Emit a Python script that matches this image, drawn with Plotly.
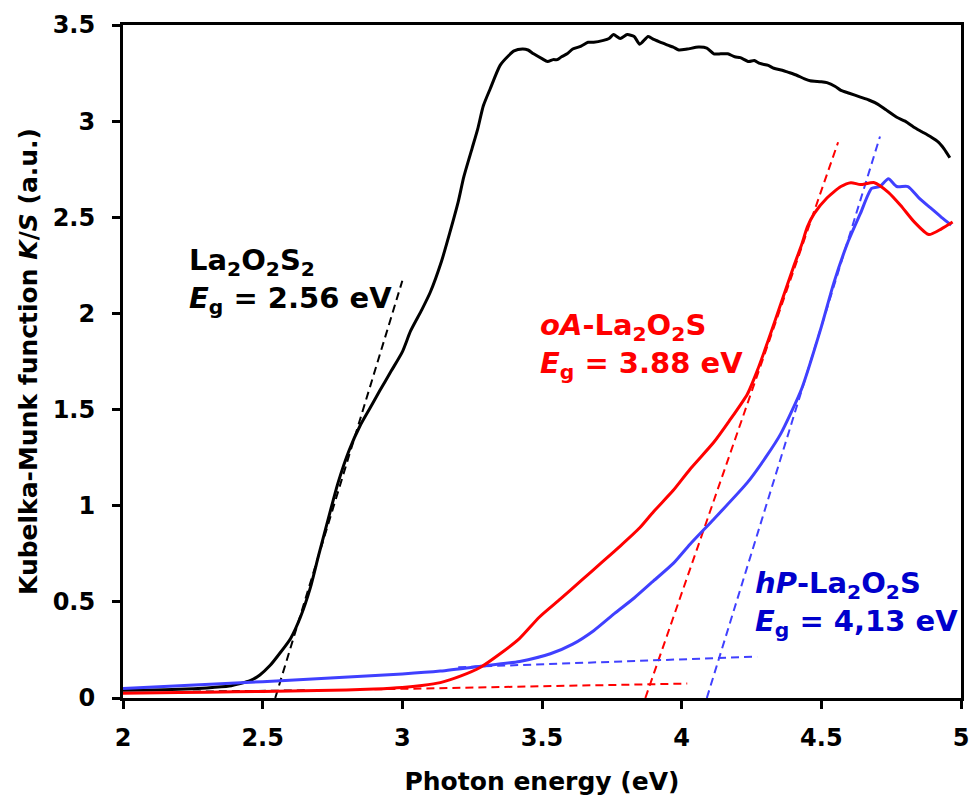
import plotly.graph_objects as go

# ---------------- data ----------------
la2o2s2_x = [2.00, 2.10, 2.20, 2.30, 2.38, 2.42, 2.455, 2.49, 2.527, 2.56, 2.60, 2.635, 2.67, 2.70,
             2.74, 2.77, 2.81, 2.85, 2.885, 2.92, 2.96, 3.00, 3.03, 3.07, 3.10, 3.14, 3.17, 3.20,
             3.22, 3.25, 3.27, 3.29, 3.315, 3.35, 3.38, 3.40, 3.43, 3.45, 3.47, 3.50, 3.52, 3.54,
             3.555, 3.57, 3.59, 3.61, 3.64, 3.665, 3.685, 3.72, 3.74, 3.756, 3.78, 3.805, 3.83,
             3.85, 3.88, 3.90, 3.925, 3.95, 3.97, 3.99, 4.02, 4.06, 4.09, 4.115, 4.14, 4.165,
             4.19, 4.21, 4.24, 4.26, 4.28, 4.31, 4.33, 4.36, 4.38, 4.41, 4.44, 4.46, 4.50, 4.52,
             4.55, 4.57, 4.60, 4.64, 4.67, 4.70, 4.73, 4.77, 4.80, 4.83, 4.86, 4.89, 4.92, 4.94, 4.96]
la2o2s2_y = [0.040, 0.042, 0.045, 0.052, 0.062, 0.075, 0.09, 0.12, 0.17, 0.23, 0.31, 0.42, 0.57, 0.74,
             0.96, 1.12, 1.29, 1.42, 1.51, 1.60, 1.70, 1.80, 1.91, 2.02, 2.11, 2.27, 2.42, 2.58,
             2.71, 2.86, 2.96, 3.08, 3.17, 3.29, 3.34, 3.365, 3.375, 3.37, 3.35, 3.325, 3.31, 3.32,
             3.32, 3.335, 3.35, 3.375, 3.39, 3.41, 3.41, 3.42, 3.43, 3.45, 3.43, 3.45, 3.44,
             3.40, 3.44, 3.425, 3.41, 3.395, 3.385, 3.37, 3.375, 3.385, 3.38, 3.35, 3.35, 3.35,
             3.335, 3.33, 3.31, 3.315, 3.30, 3.29, 3.275, 3.265, 3.255, 3.24, 3.22, 3.21, 3.205, 3.20,
             3.18, 3.16, 3.145, 3.125, 3.11, 3.09, 3.06, 3.02, 3.00, 2.97, 2.945, 2.92, 2.89, 2.855, 2.81]

oa_x = [2.00, 2.20, 2.40, 2.60, 2.80, 2.90, 3.00, 3.07, 3.136, 3.21, 3.28, 3.35, 3.42, 3.49, 3.566,
        3.64, 3.71, 3.78, 3.85, 3.90, 3.97, 4.03, 4.115, 4.17, 4.235, 4.27, 4.31, 4.355, 4.40,
        4.43, 4.45, 4.475, 4.52, 4.57, 4.606, 4.64, 4.69, 4.74, 4.785, 4.83, 4.885, 4.93, 4.97]
oa_y = [0.025, 0.028, 0.032, 0.036, 0.042, 0.047, 0.055, 0.065, 0.08, 0.115, 0.16, 0.23, 0.31, 0.42, 0.515,
        0.61, 0.70, 0.79, 0.885, 0.97, 1.08, 1.19, 1.33, 1.44, 1.58, 1.70, 1.86, 2.05, 2.24,
        2.36, 2.45, 2.52, 2.60, 2.66, 2.68, 2.67, 2.68, 2.63, 2.56, 2.48, 2.41, 2.44, 2.475]

hp_x = [2.00, 2.50, 3.00, 3.136, 3.28, 3.42, 3.53, 3.61, 3.685, 3.76, 3.83, 3.90, 3.97, 4.03, 4.115,
        4.235, 4.30, 4.355, 4.43, 4.50, 4.545, 4.595, 4.64, 4.68, 4.71, 4.74, 4.77, 4.81, 4.85,
        4.89, 4.93, 4.965]
hp_y = [0.050, 0.085, 0.125, 0.14, 0.165, 0.19, 0.23, 0.28, 0.35, 0.44, 0.52, 0.61, 0.70, 0.80, 0.93,
        1.12, 1.25, 1.375, 1.61, 1.93, 2.16, 2.37, 2.52, 2.65, 2.66, 2.70, 2.66, 2.66, 2.60,
        2.55, 2.50, 2.46]

# Tauc-type tangent / baseline construction lines
la2o2s2_tan_x, la2o2s2_tan_y = [2.545, 3.0], [0.0, 2.17]
la2o2s2_base_x, la2o2s2_base_y = [2.25, 2.66], [0.033, 0.040]
oa_tan_x, oa_tan_y = [3.87, 4.56], [0.0, 2.89]
oa_base_x, oa_base_y = [2.90, 4.02], [0.045, 0.075]
hp_tan_x, hp_tan_y = [4.09, 4.71], [0.0, 2.92]
hp_base_x, hp_base_y = [3.20, 4.27], [0.16, 0.215]

x_tickvals = [2, 2.5, 3, 3.5, 4, 4.5, 5]
x_ticktext = ["2", "2.5", "3", "3.5", "4", "4.5", "5"]
y_tickvals = [0, 0.5, 1, 1.5, 2, 2.5, 3, 3.5]
y_ticktext = ["0", "0.5", "1", "1.5", "2", "2.5", "3", "3.5"]

BLACK = "#000000"
RED = "#ff0000"
BLUE = "#4040ff"
BLUE_TEXT = "#0000cc"
FONT = "DejaVu Sans"

fig = go.Figure()

def solid(x, y, c):
    fig.add_trace(go.Scatter(x=x, y=y, mode="lines",
                             line=dict(color=c, width=3, shape="spline", smoothing=0.6),
                             hoverinfo="skip", showlegend=False))

def dashed(x, y, c):
    fig.add_trace(go.Scatter(x=x, y=y, mode="lines", line=dict(color=c, width=2, dash="8px,5px"),
                             hoverinfo="skip", showlegend=False))

dashed(la2o2s2_tan_x, la2o2s2_tan_y, BLACK)
dashed(la2o2s2_base_x, la2o2s2_base_y, BLACK)
dashed(oa_tan_x, oa_tan_y, RED)
dashed(oa_base_x, oa_base_y, RED)
dashed(hp_tan_x, hp_tan_y, BLUE)
dashed(hp_base_x, hp_base_y, BLUE)
solid(la2o2s2_x, la2o2s2_y, BLACK)
solid(hp_x, hp_y, BLUE)
solid(oa_x, oa_y, RED)

ann_font = dict(family=FONT, size=29, weight="bold")
fig.add_annotation(x=2.23, y=2.17, xref="x", yref="y", xanchor="left", yanchor="middle",
                   showarrow=False, align="left",
                   text="La<sub>2</sub>O<sub>2</sub>S<sub>2</sub><br><i>E</i><sub>g</sub> = 2.56 eV",
                   font=dict(**ann_font, color=BLACK))
fig.add_annotation(x=3.485, y=1.83, xref="x", yref="y", xanchor="left", yanchor="middle",
                   showarrow=False, align="left",
                   text="<i>oA</i>-La<sub>2</sub>O<sub>2</sub>S<br><i>E</i><sub>g</sub> = 3.88 eV",
                   font=dict(**ann_font, color=RED))
fig.add_annotation(x=4.255, y=0.49, xref="x", yref="y", xanchor="left", yanchor="middle",
                   showarrow=False, align="left",
                   text="<i>hP</i>-La<sub>2</sub>O<sub>2</sub>S<br><i>E</i><sub>g</sub> = 4,13 eV",
                   font=dict(**ann_font, color=BLUE_TEXT))

axis_common = dict(showline=True, linewidth=3, linecolor=BLACK, mirror=True,
                   ticks="outside", ticklen=8, tickwidth=2.5, tickcolor=BLACK,
                   showgrid=False, zeroline=False, automargin=False,
                   tickfont=dict(family=FONT, size=24, color=BLACK, weight="bold"))

fig.update_xaxes(range=[2, 5], tickvals=x_tickvals, ticktext=x_ticktext,
                 title=dict(text="Photon energy (eV)", standoff=22,
                            font=dict(family=FONT, size=25, color=BLACK, weight="bold")),
                 ticklabelstandoff=8, **axis_common)
fig.update_yaxes(range=[0, 3.5], tickvals=y_tickvals, ticktext=y_ticktext,
                 title=dict(text="Kubelka-Munk function <i>K</i>/<i>S</i> (a.u.)", standoff=8,
                            font=dict(family=FONT, size=25, color=BLACK, weight="bold")),
                 ticklabelstandoff=12, **axis_common)

fig.update_layout(width=974, height=798, margin=dict(l=123, r=13, t=25, b=100),
                  paper_bgcolor="white", plot_bgcolor="white", showlegend=False)

fig.write_html("out.html")
